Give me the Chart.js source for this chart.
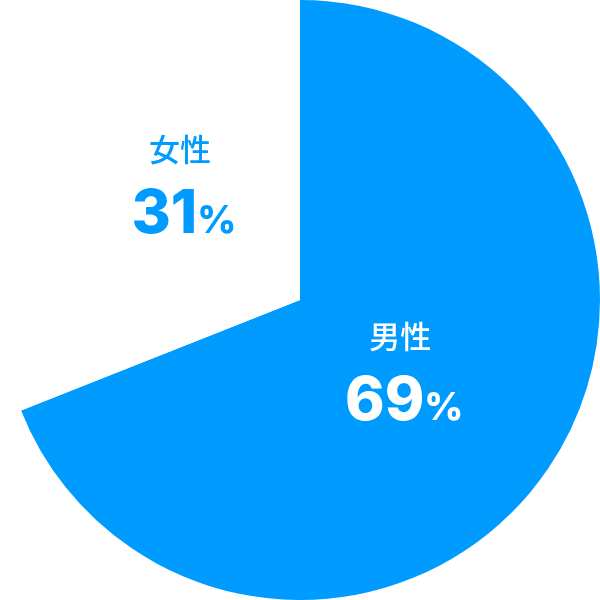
<!DOCTYPE html>
<html>
<head>
<meta charset="utf-8">
<script src="https://cdn.jsdelivr.net/npm/chart.js@4/dist/chart.umd.min.js"></script>
<style>
  html, body { margin: 0; padding: 0; background: #fff; }
  #wrap { width: 600px; height: 600px; }
</style>
</head>
<body>
<div id="wrap"><canvas id="myChart" width="600" height="600"></canvas></div>
<script>
// data
const labels = ['男性', '女性'];
const values = [69, 31];
const colors = ['#009BFF', '#FFFFFF'];
const textColors = ['#FFFFFF', '#009BFF'];

// draws the name and percent inside each slice
const sliceLabels = {
    id: 'sliceLabels',
    afterDatasetsDraw(chart, args, opts) {
        const ctx = chart.ctx;
        const meta = chart.getDatasetMeta(0);
        meta.data.forEach(function (arc, i) {
            const mid = (arc.startAngle + arc.endAngle) / 2 + opts.shift[i] * Math.PI / 180;
            const r = arc.outerRadius * opts.frac[i];
            const cx = arc.x + Math.cos(mid) * r;
            const cy = arc.y + Math.sin(mid) * r;

            ctx.save();
            ctx.fillStyle = textColors[i];
            ctx.textAlign = 'center';
            ctx.textBaseline = 'middle';
            ctx.font = '500 31px "Noto Sans CJK JP"';
            ctx.fillText(labels[i], cx - 4, cy - 35);

            // number + small percent sign, sharing a baseline
            const num = String(values[i]);
            ctx.textBaseline = 'alphabetic';
            ctx.font = '800 60px Inter';
            const w1 = ctx.measureText(num).width;
            ctx.font = '800 38px Inter';
            const w2 = ctx.measureText('%').width;
            const x0 = cx - (w1 + w2) / 2;
            const base = cy + 49;
            ctx.textAlign = 'left';
            ctx.font = '800 60px Inter';
            ctx.fillText(num, x0, base);
            ctx.font = '800 38px Inter';
            ctx.fillText('%', x0 + w1, base);
            ctx.restore();
        });
    }
};

const data = {
    labels: labels,
    datasets: [{
        data: values,
        backgroundColor: colors,
        borderWidth: 0,
        hoverOffset: 0
    }]
};

const config = {
    type: 'pie',
    data: data,
    options: {
        responsive: false,
        animation: false,
        layout: { padding: 0 },
        plugins: {
            legend: { display: false },
            tooltip: { enabled: false },
            sliceLabels: { shift: [0, 10.8], frac: [0.42, 0.547] }
        }
    },
    plugins: [sliceLabels]
};

const myChart = new Chart(document.getElementById('myChart'), config);
</script>
</body>
</html>
